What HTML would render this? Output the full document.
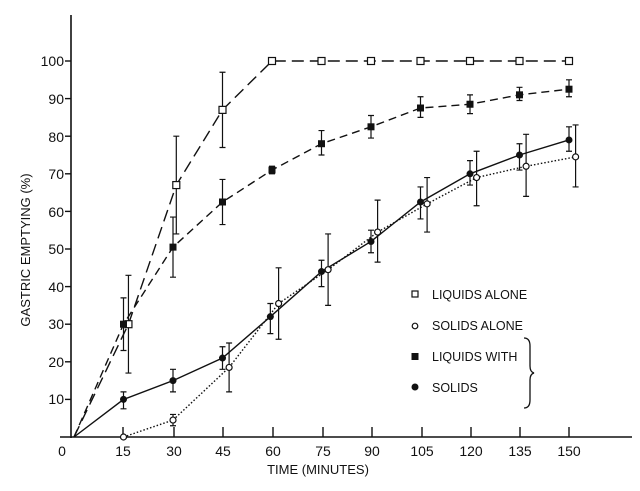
<!DOCTYPE html>
<html><head><meta charset="utf-8"><style>
body{margin:0;background:#fff}
svg{display:block}
text{font-family:"Liberation Sans",sans-serif;fill:#111}
</style></head><body>
<svg id="s" width="640" height="491" viewBox="0 0 640 491" xmlns="http://www.w3.org/2000/svg">
<g stroke="#111" stroke-width="1.6" fill="none">
<line x1="71" y1="15" x2="71" y2="438"/>
<line x1="60" y1="437" x2="632" y2="437"/>
</g>
<g font-size="14" text-anchor="end">
<text x="64" y="66">100</text><text x="64" y="104">90</text><text x="64" y="142">80</text>
<text x="64" y="179">70</text><text x="64" y="217">60</text><text x="64" y="254">50</text>
<text x="64" y="292">40</text><text x="64" y="329">30</text><text x="64" y="367">20</text>
<text x="64" y="404">10</text>
</g>
<g font-size="14" text-anchor="middle">
<text x="62" y="456">0</text><text x="123" y="456">15</text><text x="174" y="456">30</text>
<text x="223" y="456">45</text><text x="273" y="456">60</text><text x="323" y="456">75</text>
<text x="372" y="456">90</text><text x="422" y="456">105</text><text x="471" y="456">120</text>
<text x="520" y="456">135</text><text x="569" y="456">150</text>
<text x="318" y="474" font-size="13">TIME (MINUTES)</text>
<text transform="translate(30,250) rotate(-90)" font-size="13">GASTRIC EMPTYING (%)</text>
</g>
<g font-size="12.5">
<text x="432" y="299">LIQUIDS ALONE</text>
<text x="432" y="330">SOLIDS ALONE</text>
<text x="432" y="361">LIQUIDS WITH</text>
<text x="432" y="392">SOLIDS</text>
</g>
<rect x="412" y="291" width="6" height="6" fill="#fff" stroke="#111" stroke-width="1.2"/>
<circle cx="415" cy="326" r="2.8" fill="#fff" stroke="#111" stroke-width="1.2"/>
<rect x="411.5" y="353" width="7" height="7" fill="#111"/>
<circle cx="415" cy="387" r="3.5" fill="#111"/>
<path d="M524 338 q6 0 6 8 v20 q0 6 4 7 q-4 1 -4 7 v20 q0 8 -6 8" fill="none" stroke="#111" stroke-width="1.3"/>
<g id="d"></g>
</svg>
<script>
var X=t=>74+t*3.3, Y=v=>437-v*3.76, g=document.getElementById('d'), ns='http://www.w3.org/2000/svg';
function el(n,a){var e=document.createElementNS(ns,n);for(var k in a)e.setAttribute(k,a[k]);g.appendChild(e);return e;}
[123,174,223,273,323,372,422,471,520,569].forEach(x=>el('line',{x1:x,y1:437,x2:x,y2:427,stroke:'#111','stroke-width':1.4}));
[10,20,30,40,50,60,70,80,90,100].forEach(v=>el('line',{x1:65,y1:Y(v),x2:71,y2:Y(v),stroke:'#111','stroke-width':1.4}));
var S=[
 {d:[[0,0],[16.5,30,17,43],[31,67,54,80],[45,87,77,97],[60,100],[75,100],[90,100],[105,100],[120,100],[135,100],[150,100]],dash:'12,6',m:'os'},
 {d:[[0,0],[15,30,23,37],[30,50.5,42.5,58.5],[45,62.5,56.5,68.5],[60,71,70,72],[75,78,75,81.5],[90,82.5,79.5,85.5],[105,87.5,85,90.5],[120,88.5,86,91],[135,91,89.5,93],[150,92.5,90.5,95]],dash:'8,5',m:'fs'},
 {d:[[0,0],[15,10,7.5,12],[30,15,12,18],[45,21,18,24],[59.5,32,27.5,35.5],[75,44,40,47],[90,52,49,55],[105,62.5,58,66.5],[120,70,67,73.5],[135,75,71,78],[150,79,76,82.5]],dash:'',m:'fc'},
 {d:[[0,0],[15,0],[30,4.5,3,6],[47,18.5,12,25],[62,35.5,26,45],[77,44.5,35,54],[92,54.5,46.5,63],[107,62,54.5,69],[122,69,61.5,76],[137,72,64,80.5],[152,74.5,66.5,83]],dash:'1.5,2',m:'oc',start:1}
];
S.forEach(s=>{
 var pd;
 if(s.start) pd='M'+X(15)+','+Y(0)+' '+s.d.slice(2).map(p=>'L'+X(p[0])+','+Y(p[1])).join(' ');
 else pd=s.d.map((p,i)=>(i?'L':'M')+X(p[0])+','+Y(p[1])).join(' ');
 var a={d:pd,fill:'none',stroke:'#111','stroke-width':1.4};if(s.dash)a['stroke-dasharray']=s.dash;el('path',a);
 s.d.forEach(p=>{if(p.length>2){var x=X(p[0]);el('path',{d:`M${x},${Y(p[2])}V${Y(p[3])}M${x-3},${Y(p[2])}h6M${x-3},${Y(p[3])}h6`,stroke:'#111','stroke-width':1.2,fill:'none'});}});
 s.d.forEach(p=>{if(p[0]===0)return;var x=X(p[0]),y=Y(p[1]);
  if(s.m=='os')el('rect',{x:x-3.5,y:y-3.5,width:7,height:7,fill:'#fff',stroke:'#111','stroke-width':1.2});
  if(s.m=='fs')el('rect',{x:x-3.5,y:y-3.5,width:7,height:7,fill:'#111'});
  if(s.m=='fc')el('circle',{cx:x,cy:y,r:3.5,fill:'#111'});
  if(s.m=='oc')el('circle',{cx:x,cy:y,r:3,fill:'#fff',stroke:'#111','stroke-width':1.2});
 });
});
</script>
</body></html>
